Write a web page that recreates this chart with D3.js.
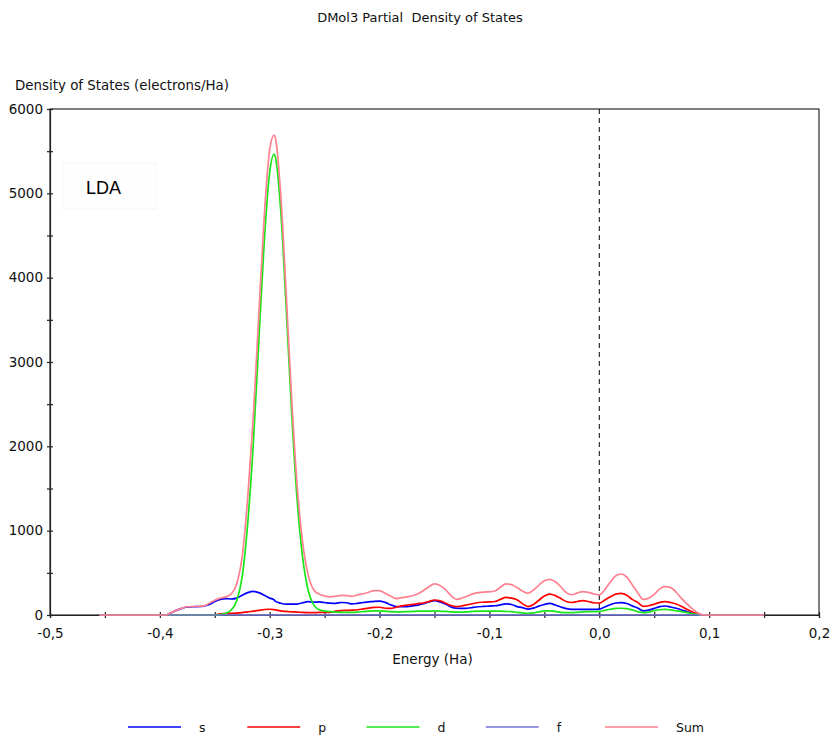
<!DOCTYPE html>
<html>
<head>
<meta charset="utf-8">
<script src="https://cdn.jsdelivr.net/npm/d3@7/dist/d3.min.js"></script>
<style>
  html, body { margin: 0; padding: 0; background: #fff; }
  svg { display: block; }
</style>
</head>
<body>
<svg id="chart" width="832" height="735"></svg>
<script>
// Energy grid (Ha) shared by the s, p, d and Sum projections
const energy = [
  -0.455, -0.395, -0.390, -0.385, -0.380, -0.375, -0.370, -0.365, -0.360, -0.355,
  -0.350, -0.345, -0.340, -0.335, -0.330, -0.325, -0.320, -0.315, -0.310, -0.305,
  -0.300, -0.296, -0.295, -0.290, -0.285, -0.280, -0.275, -0.270, -0.265, -0.260,
  -0.255, -0.250, -0.245, -0.240, -0.235, -0.230, -0.225, -0.220, -0.215, -0.210,
  -0.205, -0.200, -0.195, -0.190, -0.185, -0.180, -0.175, -0.170, -0.165, -0.160,
  -0.155, -0.150, -0.145, -0.140, -0.135, -0.130, -0.125, -0.120, -0.115, -0.110,
  -0.105, -0.100, -0.095, -0.090, -0.085, -0.080, -0.075, -0.070, -0.065, -0.060,
  -0.055, -0.050, -0.045, -0.040, -0.035, -0.030, -0.025, -0.020, -0.015, -0.010,
  -0.005, 0.000, 0.005, 0.010, 0.015, 0.020, 0.025, 0.030, 0.035, 0.040,
  0.045, 0.050, 0.055, 0.060, 0.065, 0.070, 0.075, 0.080, 0.085, 0.090,
  0.095, 0.150
];

// Partial densities of states (electrons/Ha)
const sDos = [
  0, 0, 25, 55, 78, 95, 98, 100, 105, 125,
  160, 185, 195, 190, 200, 235, 265, 280, 265, 235,
  200, 180, 165, 140, 128, 128, 130, 145, 158, 152,
  155, 148, 140, 138, 148, 145, 132, 138, 148, 155,
  162, 165, 150, 122, 100, 98, 100, 108, 118, 135,
  155, 170, 155, 130, 95, 80, 78, 80, 90, 98,
  102, 106, 110, 120, 132, 125, 100, 88, 70, 82,
  105, 125, 138, 118, 95, 75, 67, 67, 67, 67,
  67, 70, 95, 122, 142, 146, 136, 108, 82, 50,
  58, 78, 100, 107, 95, 80, 60, 38, 18, 5,
  0, 0
];

const pDos = [
  0, 0, 0, 0, 0, 0, 0, 0, 0, 0,
  0, 15, 18, 20, 22, 28, 38, 45, 55, 65,
  68, 64, 60, 50, 42, 38, 35, 30, 28, 28,
  30, 30, 32, 45, 52, 55, 58, 62, 72, 82,
  90, 92, 80, 78, 92, 108, 118, 125, 135, 142,
  160, 178, 168, 140, 112, 100, 108, 122, 135, 148,
  152, 155, 160, 185, 208, 200, 180, 135, 100, 125,
  175, 225, 248, 230, 195, 160, 148, 160, 170, 160,
  145, 140, 178, 215, 248, 257, 235, 185, 148, 102,
  110, 128, 150, 158, 148, 130, 100, 65, 35, 10,
  0, 0
];

const dDos = [
  0, 0, 0, 0, 0, 0, 0, 0, 0, 0,
  0, 5, 20, 60, 170, 460, 1090, 2020, 3220, 4420,
  5250, 5465, 5440, 4800, 3640, 2390, 1360, 680, 290, 120,
  62, 46, 40, 35, 32, 32, 32, 35, 40, 45,
  50, 50, 45, 40, 38, 38, 40, 42, 45, 45,
  45, 48, 45, 42, 38, 35, 35, 38, 42, 45,
  45, 45, 45, 45, 42, 40, 32, 25, 20, 25,
  38, 48, 50, 42, 32, 28, 28, 32, 38, 40,
  40, 42, 55, 68, 78, 80, 75, 60, 40, 28,
  35, 50, 62, 67, 60, 50, 40, 28, 15, 5,
  0, 0
];

const sumDos = [
  0, 0, 25, 55, 80, 98, 100, 102, 108, 140,
  175, 200, 215, 250, 370, 700, 1395, 2345, 3540, 4720,
  5520, 5690, 5665, 4990, 3810, 2560, 1525, 855, 476, 300,
  248, 225, 215, 222, 232, 230, 222, 238, 252, 270,
  290, 288, 258, 225, 195, 205, 215, 228, 252, 290,
  335, 368, 350, 300, 230, 185, 200, 225, 250, 265,
  272, 275, 285, 330, 368, 360, 325, 285, 258, 295,
  355, 405, 423, 395, 335, 265, 240, 262, 278, 268,
  250, 238, 300, 390, 465, 486, 450, 360, 265, 185,
  200, 245, 310, 336, 325, 270, 195, 130, 70, 25,
  0, 0
];

// The f projection is empty over the whole window
const fEnergy = [-0.455, 0.150];
const fDos = [0, 0];

const seriesNames = ["s", "p", "d", "f", "Sum"];
const seriesColors = ["#0000ff", "#ff0000", "#19e619", "#7676d6", "#ff8090"];

// Axis ticks
const xMajorTicks = [-0.5, -0.4, -0.3, -0.2, -0.1, 0.0, 0.1, 0.2];
const xTickLabels = ["-0,5", "-0,4", "-0,3", "-0,2", "-0,1", "0,0", "0,1", "0,2"];
const xMinorTicks = [-0.45, -0.35, -0.25, -0.15, -0.05, 0.05, 0.15];
const yMajorTicks = [0, 1000, 2000, 3000, 4000, 5000, 6000];
const yTickLabels = ["0", "1000", "2000", "3000", "4000", "5000", "6000"];
const yMinorTicks = [500, 1500, 2500, 3500, 4500, 5500];

const svg = d3.select("#chart");
const FONT = "'DejaVu Sans', Verdana, sans-serif";

const x = d3.scaleLinear().domain([-0.5, 0.2]).range([50, 819]);
const y = d3.scaleLinear().domain([0, 6000]).range([615, 109]);

svg.append("rect").attr("width", 832).attr("height", 735).attr("fill", "#fff");

// Titles
svg.append("text")
  .attr("x", 420).attr("y", 22)
  .attr("text-anchor", "middle")
  .attr("font-family", FONT).attr("font-size", 13)
  .attr("fill", "#111")
  .attr("xml:space", "preserve")
  .text("DMol3 Partial  Density of States");

svg.append("text")
  .attr("x", 15).attr("y", 90)
  .attr("font-family", FONT).attr("font-size", 13.4)
  .attr("fill", "#111")
  .text("Density of States (electrons/Ha)");

svg.append("text")
  .attr("x", x(-0.15) - 2).attr("y", 664)
  .attr("text-anchor", "middle")
  .attr("font-family", FONT).attr("font-size", 13.5)
  .attr("fill", "#111")
  .text("Energy (Ha)");

// Plot frame
svg.append("rect")
  .attr("x", x(-0.5)).attr("y", y(6000))
  .attr("width", x(0.2) - x(-0.5)).attr("height", y(0) - y(6000))
  .attr("fill", "none").attr("stroke", "#000").attr("stroke-width", 1);

// LDA label box
svg.append("rect")
  .attr("x", 63).attr("y", 163).attr("width", 93).attr("height", 46)
  .attr("fill", "#fefefe").attr("stroke", "#f5f5f5");
svg.append("text")
  .attr("x", 86).attr("y", 194)
  .attr("font-family", "'Liberation Sans', Arial, sans-serif").attr("font-size", 18)
  .attr("fill", "#000")
  .text("LDA");

// Fermi level marker
svg.append("line")
  .attr("x1", x(0)).attr("x2", x(0))
  .attr("y1", y(6000)).attr("y2", y(0))
  .attr("stroke", "#000").attr("stroke-width", 1)
  .attr("stroke-dasharray", "5,4");

// Axes
function styleAxis(g, crossX, crossY) {
  g.select(".domain").attr("stroke", "#222").attr("stroke-width", 1.2);
  g.selectAll(".tick line").attr("stroke", "#222").attr("stroke-width", 1.2);
  if (crossY) g.selectAll(".tick line").attr("y1", -3).attr("y2", 3);
  if (crossX) g.selectAll(".tick line").attr("x1", 3).attr("x2", -3);
  g.selectAll(".tick text")
    .attr("font-family", FONT).attr("font-size", 13.5).attr("fill", "#111");
}

const xAxis = svg.append("g").attr("transform", `translate(0,${y(0)})`)
  .call(d3.axisBottom(x).tickValues(xMajorTicks).tickSizeOuter(0).tickSize(3).tickPadding(10)
    .tickFormat((d, i) => xTickLabels[i]));
styleAxis(xAxis, false, true);
xAxis.selectAll(".tick text").attr("dy", "0.71em");

const xMinor = svg.append("g").attr("transform", `translate(0,${y(0)})`)
  .call(d3.axisBottom(x).tickValues(xMinorTicks).tickSizeOuter(0).tickSize(3).tickFormat(""));
styleAxis(xMinor, false, true);
xMinor.select(".domain").remove();

const yAxis = svg.append("g").attr("transform", `translate(${x(-0.5)},0)`)
  .call(d3.axisLeft(y).tickValues(yMajorTicks).tickSizeOuter(0).tickSize(3).tickPadding(4)
    .tickFormat((d, i) => yTickLabels[i]));
styleAxis(yAxis, true, false);

const yMinor = svg.append("g").attr("transform", `translate(${x(-0.5)},0)`)
  .call(d3.axisLeft(y).tickValues(yMinorTicks).tickSizeOuter(0).tickSize(3).tickFormat(""));
styleAxis(yMinor, true, false);
yMinor.select(".domain").remove();

// Curves, drawn s, p, d, f, then Sum on top
const seriesData = [
  energy.map((e, i) => ({ e, v: sDos[i] })),
  energy.map((e, i) => ({ e, v: pDos[i] })),
  energy.map((e, i) => ({ e, v: dDos[i] })),
  fEnergy.map((e, i) => ({ e, v: fDos[i] })),
  energy.map((e, i) => ({ e, v: sumDos[i] }))
];

const line = d3.line()
  .x(d => x(d.e))
  .y(d => y(d.v))
  .curve(d3.curveMonotoneX);

svg.append("g").selectAll("path")
  .data(seriesData)
  .join("path")
  .attr("d", line)
  .attr("fill", "none")
  .attr("stroke", (d, i) => seriesColors[i])
  .attr("stroke-width", 1.7)
  .attr("stroke-linejoin", "round");

// Legend
const legendX = d3.scaleLinear().domain([0, 4]).range([128, 605]);
const legend = svg.append("g");
seriesNames.forEach((name, i) => {
  const lx = legendX(i);
  legend.append("line")
    .attr("x1", lx).attr("x2", lx + 53)
    .attr("y1", 727).attr("y2", 727)
    .attr("stroke", seriesColors[i]).attr("stroke-width", 1.7);
  legend.append("text")
    .attr("x", lx + 71).attr("y", 732)
    .attr("font-family", FONT).attr("font-size", 12.5)
    .attr("fill", "#111")
    .text(name);
});
</script>
</body>
</html>
